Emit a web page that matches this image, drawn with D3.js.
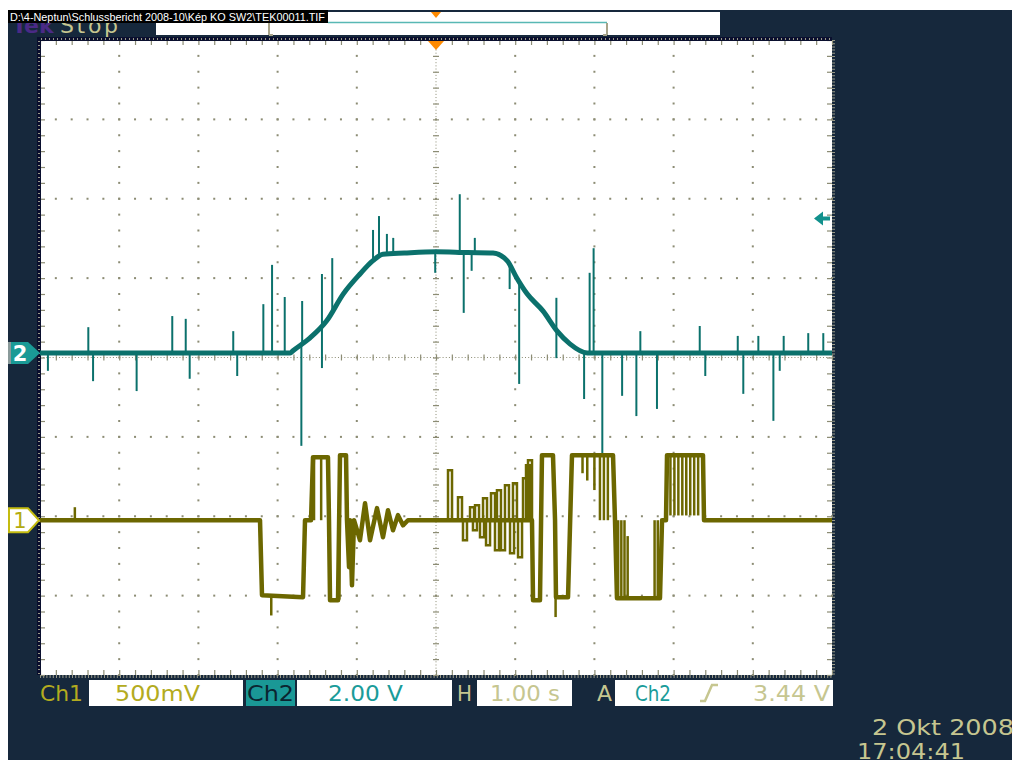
<!DOCTYPE html>
<html><head><meta charset="utf-8">
<script src="https://cdn.jsdelivr.net/npm/d3@7"></script>
<style>html,body{margin:0;padding:0;background:#fff;overflow:hidden}</style>
</head><body><svg id="scope" width="1019" height="760"></svg>
<script>
// ---- acquisition settings ----
const secPerDiv = 1.0;
const ch1VoltsPerDiv = 0.5;
const ch2VoltsPerDiv = 2.0;
const ch1Offset = -2.05;   // ground marker position, divisions
const ch2Offset = 0.057;
const triggerLevel = 3.44; // V on Ch2

// ---- Ch2: slow envelope [time s, volts] ----
const ch2Trace = [
  [-5.0,0],[-1.84,0],[-1.81,0.05],[-1.59,0.38],[-1.38,0.81],[-1.17,1.49],[-0.96,1.99],
  [-0.80,2.32],[-0.67,2.49],[-0.40,2.52],[0.0,2.55],[0.40,2.53],[0.72,2.52],[0.90,2.32],
  [1.02,1.89],[1.15,1.49],[1.35,1.06],[1.53,0.55],[1.69,0.23],[1.91,0],[5.0,0]
];
// Ch2 glitches: [time s, peak volts]
const ch2Spikes = [
  [-4.90,-0.45],[-4.39,0.65],[-4.33,-0.71],[-3.78,-0.96],[-3.33,0.93],[-3.16,0.86],
  [-3.11,-0.65],[-2.56,0.55],[-2.51,-0.58],[-2.18,1.23],[-2.07,2.22],[-1.91,1.41],
  [-1.70,-2.34],[-1.69,1.31],[-1.44,1.99],[-1.44,-0.38],[-1.31,2.39],[-0.795,3.10],
  [-0.72,3.45],[-0.62,3.00],[-0.54,2.90],[-0.01,2.02],[0.30,4.00],[0.35,1.01],
  [0.45,2.07],[0.49,2.90],[0.93,1.61],[1.05,-0.78],[1.52,1.39],[1.52,-0.13],
  [1.87,-1.16],[1.94,2.02],[1.99,2.64],[2.10,-2.52],[2.35,-1.08],[2.53,-1.59],
  [2.58,0.55],[2.79,-1.41],[3.33,0.68],[3.40,-0.58],[3.81,0.43],[3.88,-1.03],
  [4.07,0.43],[4.26,-1.71],[4.34,-0.45],[4.39,0.43],[4.70,0.50],[4.89,0.50]
];

// ---- Ch1: switching signal [time s, volts] ----
const ch1Trace = [
  [-5.0,0],[-2.222,0],[-2.197,-0.472],[-1.679,-0.485],[-1.654,0],[-1.578,0],[-1.553,0.397],
  [-1.364,0.397],[-1.351,0],[-1.338,-0.504],[-1.237,-0.504],[-1.212,0.410],[-1.136,0.410],
  [-1.124,0],[-1.098,-0.296],[-1.086,0],[-1.061,-0.410],[-1.035,0],[-0.960,-0.126],
  [-0.896,0.107],[-0.833,-0.126],[-0.745,0.076],[-0.669,-0.107],[-0.606,0.063],
  [-0.543,-0.063],[-0.480,0.032],[-0.417,-0.032],[-0.354,0],[1.212,0],[1.225,-0.504],
  [1.313,-0.504],[1.338,0.410],[1.477,0.410],[1.503,0],[1.515,-0.485],[1.667,-0.485],
  [1.717,0.410],[2.235,0.410],[2.260,0],[2.285,-0.491],[2.828,-0.491],[2.854,0],
  [2.904,0],[2.917,0.410],[3.371,0.410],[3.384,0],[5.0,0]
];
// Ch1 narrow pulses riding on the baseline: [time s, peak volts]
const ch1Pulses = [
  [0.177,0.315],[0.303,0.145],[0.366,-0.126],[0.455,0.082],[0.492,-0.063],[0.518,0.095],
  [0.581,-0.107],[0.619,0.139],[0.657,-0.158],[0.720,0.170],[0.770,-0.189],[0.795,0.189],
  [0.846,-0.189],[0.896,0.220],[0.960,-0.208],[0.997,0.233],[1.061,-0.233],[1.124,0.265],
  [1.162,0.347],[1.187,0.378]
];
// Ch1 fast toggling bursts: [time s, volts from, volts to]
const ch1Toggles = [
  [-4.56,0,0.082],[-2.08,-0.48,-0.60],[-1.54,0.40,0],[-1.45,0.40,0],[-1.22,-0.50,0.2],
  [1.51,-0.48,-0.61],[1.85,0.41,0.296],[1.91,0.41,0.25],[2.00,0.41,0.19],[2.07,0.41,0.0],
  [2.12,0.41,0.0],[2.17,0.41,0.0],[2.30,-0.49,0],[2.34,-0.49,0],[2.38,-0.49,0],
  [2.42,-0.49,-0.1],[2.76,-0.49,0],[2.80,-0.49,0],[2.96,0.41,0.03],[3.01,0.41,0.03],
  [3.06,0.41,0.03],[3.11,0.41,0.03],[3.16,0.41,0.03],[3.21,0.41,0.03],[3.26,0.41,0.03],
  [3.31,0.41,0.03]
];

// ---- readout text ----
const statusText = ["Ch1","500mV","Ch2","2.00 V","H","1.00 s","A","Ch2","3.44 V"];
const filePath = "D:\\4-Neptun\\Schlussbericht 2008-10\\Kép KO SW2\\TEK00011.TIF";
const dateText = ["2 Okt  2008","17:04:41"];

// ---- palette ----
const C = {
  screen:"#16283c", grid:"#8c8c74", ch1:"#6c6700", ch2:"#0b716c",
  ch1Text:"#b3ab20", ch2Text:"#1a9c9a", beige:"#c6c690", orange:"#ff8a00"
};

const svg = d3.select("#scope");
svg.append("rect").attr("x",8).attr("y",10).attr("width",1004).attr("height",750).attr("fill",C.screen);

const plot = {left:40, right:832, top:40, bottom:675};
const x = d3.scaleLinear().domain([-5*secPerDiv, 5*secPerDiv]).range([plot.left, plot.right]);
const yDiv = d3.scaleLinear().domain([-4,4]).range([plot.bottom, plot.top]);
const y1 = v => yDiv(v/ch1VoltsPerDiv + ch1Offset);
const y2 = v => yDiv(v/ch2VoltsPerDiv + ch2Offset);

// graticule background
svg.append("rect").attr("x",plot.left).attr("y",plot.top)
  .attr("width",plot.right-plot.left).attr("height",plot.bottom-plot.top).attr("fill","#fff");

const grat = svg.append("g");
const minorX = d3.range(0,51).map(i => -5 + i*0.2);
const minorY = d3.range(0,41).map(i => -4 + i*0.2);
// dotted division lines
[-4,-3,-2,-1,1,2,3,4].forEach(d => {
  minorY.forEach(mv => grat.append("rect").attr("x",x(d)-1).attr("y",yDiv(mv)-1)
    .attr("width",2).attr("height",2).attr("fill",C.grid));
});
[-3,-2,-1,1,2,3].forEach(d => {
  minorX.forEach(mv => grat.append("rect").attr("x",x(mv)-1).attr("y",yDiv(d)-1)
    .attr("width",2).attr("height",2).attr("fill",C.grid));
});
// centre crosshair: fine dots plus minor ticks
grat.append("line").attr("x1",plot.left).attr("x2",plot.right).attr("y1",yDiv(0)).attr("y2",yDiv(0))
  .attr("stroke",C.grid).attr("stroke-dasharray","1,2.17");
grat.append("line").attr("y1",plot.top).attr("y2",plot.bottom).attr("x1",x(0)).attr("x2",x(0))
  .attr("stroke",C.grid).attr("stroke-dasharray","1,2.17");

function tickAxis(axis, tx, ty, size) {
  const g = grat.append("g").attr("transform",`translate(${tx},${ty})`)
    .call(axis.tickSize(size).tickFormat(""));
  g.select(".domain").remove();
  g.selectAll("line").attr("stroke",C.grid).attr("stroke-width",1.2);
}
// crosshair ticks
tickAxis(d3.axisBottom(x).tickValues(minorX), 0, yDiv(0)-3, 6);
tickAxis(d3.axisRight(yDiv).tickValues(minorY), x(0)-3, 0, 6);
// edge ticks
tickAxis(d3.axisBottom(x).tickValues(minorX), 0, plot.top, 5);
tickAxis(d3.axisTop(x).tickValues(minorX), 0, plot.bottom, 5);
tickAxis(d3.axisRight(yDiv).tickValues(minorY), plot.left, 0, 5);
tickAxis(d3.axisLeft(yDiv).tickValues(minorY), plot.right, 0, 5);
// frame edge
grat.append("rect").attr("x",37).attr("y",37).attr("width",4).attr("height",plot.bottom-37).attr("fill","#0a0f2e");
grat.append("rect").attr("x",37).attr("y",37).attr("width",plot.right-37).attr("height",4).attr("fill","#0a0f2e");
grat.append("line").attr("x1",41).attr("x2",plot.right).attr("y1",39).attr("y2",39)
  .attr("stroke","#9a9a88").attr("stroke-width",2).attr("stroke-dasharray","1,3");
grat.append("line").attr("y1",41).attr("y2",plot.bottom).attr("x1",39).attr("x2",39)
  .attr("stroke","#9a9a88").attr("stroke-width",2).attr("stroke-dasharray","1,3");
grat.append("line").attr("x1",plot.left).attr("x2",plot.right).attr("y1",plot.bottom+1.5).attr("y2",plot.bottom+1.5)
  .attr("stroke","#9a9a88").attr("stroke-width",3).attr("stroke-dasharray","1,2.2");
grat.append("line").attr("y1",plot.top).attr("y2",plot.bottom).attr("x1",plot.right+1.5).attr("x2",plot.right+1.5)
  .attr("stroke","#9a9a88").attr("stroke-width",3).attr("stroke-dasharray","1,2.2");

// ---- Ch1 trace ----
const traces = svg.append("g");
const line1 = d3.line().x(d => x(d[0])).y(d => y1(d[1]));
traces.append("path").datum(ch1Trace).attr("d",line1).attr("fill","none")
  .attr("stroke",C.ch1).attr("stroke-width",4.5).attr("stroke-linejoin","round");
traces.selectAll(".pl").data(ch1Pulses).join("path")
  .attr("d",d => { const px = x(d[0]), b = y1(0), p = y1(d[1]);
    return `M${px-2},${b} L${px-2},${p} L${px+2},${p} L${px+2},${b}`; })
  .attr("fill","none").attr("stroke",C.ch1).attr("stroke-width",2.5);
traces.selectAll(".tg").data(ch1Toggles).join("line")
  .attr("x1",d=>x(d[0])).attr("x2",d=>x(d[0])).attr("y1",d=>y1(d[1])).attr("y2",d=>y1(d[2]))
  .attr("stroke",C.ch1).attr("stroke-width",2.5);

// ---- Ch2 trace ----
const env2 = d3.scaleLinear().domain(ch2Trace.map(d=>d[0])).range(ch2Trace.map(d=>d[1]));
const line2 = d3.line().x(d => x(d[0])).y(d => y2(d[1])).curve(d3.curveMonotoneX);
traces.selectAll(".sp").data(ch2Spikes).join("line")
  .attr("x1",d=>x(d[0])).attr("x2",d=>x(d[0])).attr("y1",d=>y2(env2(d[0]))).attr("y2",d=>y2(d[1]))
  .attr("stroke",C.ch2).attr("stroke-width",2);
traces.append("path").datum(ch2Trace).attr("d",line2).attr("fill","none")
  .attr("stroke",C.ch2).attr("stroke-width",5).attr("stroke-linejoin","round");

// ---- markers ----
const mk = svg.append("g");
// trigger position
const tx0 = x(0);
mk.append("path").attr("d",`M${tx0-8},41 L${tx0+8},41 L${tx0},50 Z`).attr("fill",C.orange);
// trigger level arrow
const ty = y2(triggerLevel) + 2;
mk.append("path").attr("d",`M814,${ty} L823,${ty-7} L823,${ty-2} L830,${ty-2} L830,${ty+2} L823,${ty+2} L823,${ty+7} Z`)
  .attr("fill","#12918d");
// channel ground markers
const g2 = y2(0), g1 = y1(0);
mk.append("path").attr("d",`M8,${g2-11} L28,${g2-11} L40,${g2} L28,${g2+11} L8,${g2+11} Z`).attr("fill","#1a9a96");
mk.append("rect").attr("x",8).attr("y",g2-11).attr("width",3).attr("height",22).attr("fill","#8a9a9a");
mk.append("text").attr("x",20).attr("y",g2+8).attr("text-anchor","middle").attr("fill","#fff")
  .attr("font-family","DejaVu Sans").attr("font-weight","bold").attr("font-size",21).text("2");
mk.append("path").attr("d",`M9,${g1-12} L28,${g1-12} L39,${g1} L28,${g1+12} L9,${g1+12} Z`)
  .attr("fill","#fff").attr("stroke","#c4bc10").attr("stroke-width",2);
mk.append("text").attr("x",20).attr("y",g1+8).attr("text-anchor","middle").attr("fill","#b3ab10")
  .attr("font-family","DejaVu Sans").attr("font-size",21).text("1");

// ---- top bar ----
const topBar = svg.append("g");
topBar.append("text").attr("x",12).attr("y",33).attr("fill","#4a2a86").attr("font-family","DejaVu Sans")
  .attr("font-weight","bold").attr("font-size",22).text("Tek");
topBar.append("text").attr("x",60).attr("y",33).attr("fill",C.beige).attr("font-family","DejaVu Sans")
  .attr("font-size",22).attr("textLength",58).text("Stop");
topBar.append("rect").attr("x",156).attr("y",22).attr("width",564).attr("height",13).attr("fill","#fff");
topBar.append("rect").attr("x",328).attr("y",12).attr("width",392).attr("height",23).attr("fill","#fff");
topBar.append("line").attr("x1",328).attr("x2",607).attr("y1",22.5).attr("y2",22.5).attr("stroke","#58b8b4").attr("stroke-width",1.5);
topBar.append("path").attr("d","M269,23 L269,35 M607,23 L607,35 M269,35 L273,35 M607,35 L603,35")
  .attr("stroke","#a8a48a").attr("stroke-width",2).attr("fill","none");
topBar.append("path").attr("d",`M${tx0-5},12 L${tx0+5},12 L${tx0},18 Z`).attr("fill",C.orange);
topBar.append("rect").attr("x",8).attr("y",10).attr("width",320).attr("height",13).attr("fill","#000");
topBar.append("text").attr("x",10).attr("y",21).attr("fill","#fff").attr("font-family","Liberation Sans Narrow, Liberation Sans")
  .attr("font-size",11.5).attr("textLength",315).attr("lengthAdjust","spacingAndGlyphs").text(filePath);

// ---- readout bar ----
const rb = svg.append("g").attr("font-family","DejaVu Sans").attr("font-size",21);
[[89,154],[297,155],[477,95],[615,218]].forEach(([bx,bw]) =>
  rb.append("rect").attr("x",bx).attr("y",680).attr("width",bw).attr("height",26).attr("fill","#fff"));
rb.append("rect").attr("x",246).attr("y",680).attr("width",49).attr("height",26).attr("fill","#1a9896");
const labels = [
  [statusText[0],40,43,C.ch1Text],[statusText[1],115,85,C.ch1Text],[statusText[2],247,47,"#0b2530"],
  [statusText[3],328,75,C.ch2Text],[statusText[4],457,15,C.beige],[statusText[5],490,70,C.beige],
  [statusText[6],597,15,C.beige],[statusText[7],635,36,C.ch2Text],[statusText[8],753,77,C.beige]
];
labels.forEach(([t,lx,lw,col]) => rb.append("text").attr("x",lx).attr("y",701).attr("fill",col)
  .attr("textLength",lw).attr("lengthAdjust","spacingAndGlyphs").text(t));
rb.append("path").attr("d","M700,701 L705,701 L712,685 L718,685").attr("stroke",C.beige)
  .attr("stroke-width",2.5).attr("fill","none");
rb.append("text").attr("x",872).attr("y",735).attr("fill",C.beige).attr("textLength",142)
  .attr("lengthAdjust","spacingAndGlyphs").text(dateText[0]);
rb.append("text").attr("x",857).attr("y",759).attr("fill",C.beige).attr("textLength",108)
  .attr("lengthAdjust","spacingAndGlyphs").text(dateText[1]);
</script></body></html>
